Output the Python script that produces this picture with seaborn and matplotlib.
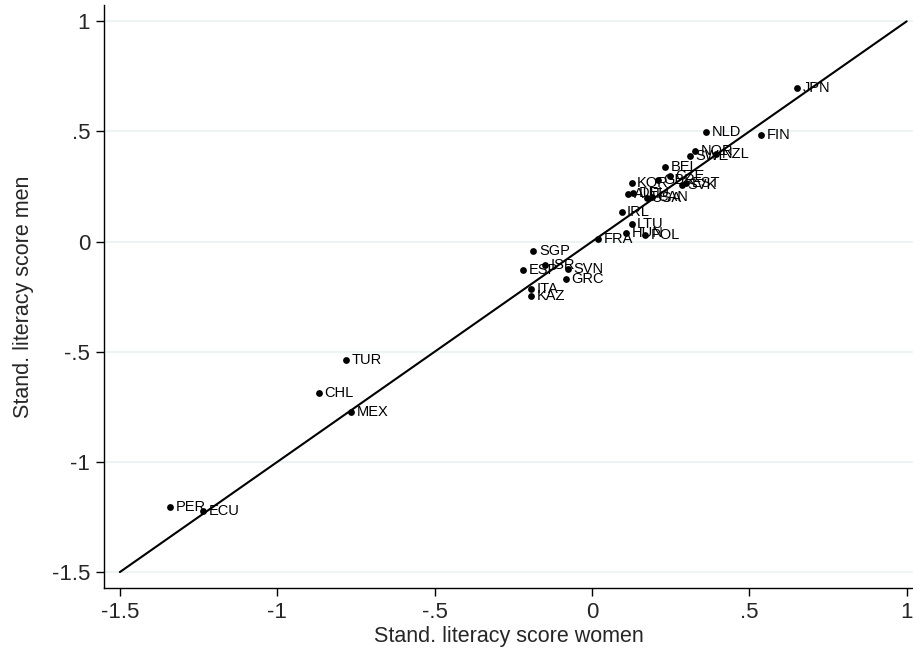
import numpy as np
import pandas as pd
import matplotlib
matplotlib.use("Agg")
import matplotlib.pyplot as plt
import seaborn as sns

# country codes and standardised literacy scores (women, men)
countries = ["JPN", "NLD", "FIN", "NOR", "SWE", "NZL", "BEL", "KOR", "GBR", "CZE",
             "SVK", "EST", "AUT", "DEU", "USA", "CAN", "IRL", "LTU", "HUN", "POL",
             "FRA", "SGP", "ISR", "ESP", "SVN", "GRC", "ITA", "KAZ", "TUR", "CHL",
             "MEX", "PER", "ECU"]
women = [0.651, 0.362, 0.537, 0.327, 0.311, 0.394, 0.232, 0.126, 0.210, 0.248,
         0.285, 0.300, 0.115, 0.130, 0.174, 0.190, 0.094, 0.126, 0.108, 0.168,
         0.020, -0.186, -0.149, -0.220, -0.077, -0.084, -0.194, -0.194, -0.781, -0.867,
         -0.766, -1.341, -1.236]
men = [0.696, 0.497, 0.482, 0.410, 0.387, 0.400, 0.341, 0.264, 0.279, 0.297,
       0.255, 0.265, 0.214, 0.219, 0.196, 0.203, 0.135, 0.078, 0.037, 0.029,
       0.014, -0.044, -0.104, -0.127, -0.122, -0.168, -0.213, -0.248, -0.538, -0.688,
       -0.774, -1.205, -1.223]

# 45 degree reference line
line_range = [-1.5, 1.0]

x_ticks = [-1.5, -1, -0.5, 0, 0.5, 1]
tick_labels = ["-1.5", "-1", "-.5", "0", ".5", "1"]


def main():
    sns.set_theme(style="white")
    plt.rcParams["font.family"] = ["Liberation Sans", "DejaVu Sans"]
    plt.rcParams["axes.unicode_minus"] = False

    df = pd.DataFrame({"country": countries, "women": women, "men": men})

    fig = plt.figure(figsize=(9.13, 6.55), dpi=100)
    ax = fig.add_axes([0.114, 0.102, 0.886, 0.890])

    for yt in x_ticks:
        ax.axhline(yt, color="#EAF2F3", lw=1.2, zorder=0)

    sns.lineplot(x=line_range, y=line_range, color="black", lw=1.5, ax=ax, zorder=2)
    sns.scatterplot(data=df, x="women", y="men", color="black", s=24,
                    edgecolor="black", linewidth=0, ax=ax, zorder=3)

    for _, row in df.iterrows():
        ax.annotate(row["country"], (row["women"], row["men"]), xytext=(4, 0),
                    textcoords="offset points", va="center", ha="left",
                    fontsize=10.5, color="black", zorder=4)

    ax.set_xlim(-1.55, 1.02)
    ax.set_ylim(-1.573, 1.073)
    ax.set_xticks(x_ticks)
    ax.set_xticklabels(tick_labels)
    ax.set_yticks(x_ticks)
    ax.set_yticklabels(tick_labels)
    ax.tick_params(axis="both", which="major", direction="out", length=6,
                   width=1, color="black", labelsize=16, pad=4,
                   bottom=True, left=True)

    for side in ["top", "right"]:
        ax.spines[side].set_visible(False)
    for side in ["left", "bottom"]:
        ax.spines[side].set_color("black")
        ax.spines[side].set_linewidth(1)

    ax.set_xlabel("Stand. literacy score women", fontsize=15.5, labelpad=2)
    ax.set_ylabel("Stand. literacy score men", fontsize=15.5, labelpad=13)

    fig.savefig("out.png", dpi=100, facecolor="white")
    plt.close()


if __name__ == "__main__":
    main()
